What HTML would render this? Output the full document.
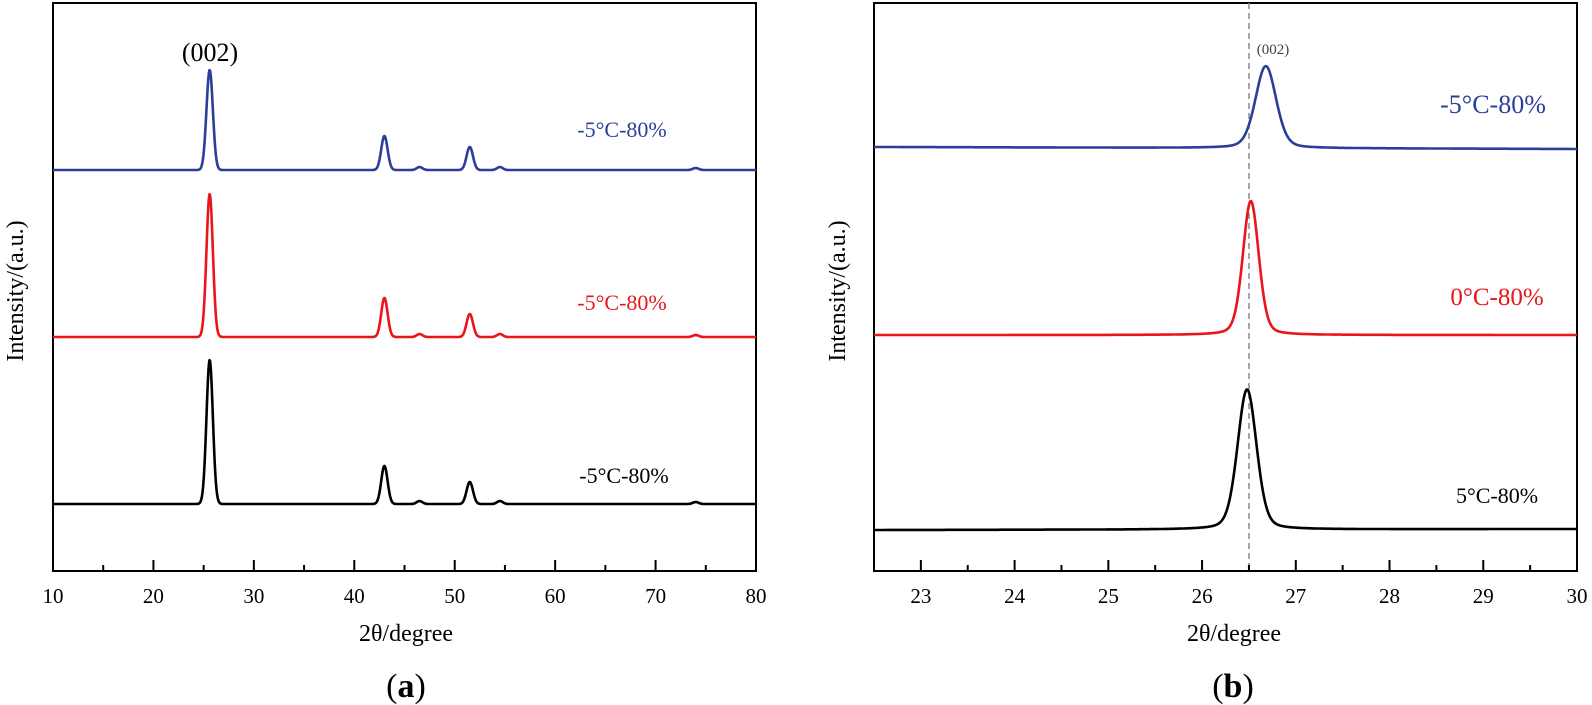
<!DOCTYPE html>
<html><head><meta charset="utf-8"><style>
body{margin:0;background:#fff}
svg{display:block;font-family:"Liberation Serif",serif}
</style></head><body>
<svg id="s" width="1592" height="705" viewBox="0 0 1592 705">
<rect x="53" y="3" width="703" height="568" fill="none" stroke="#000" stroke-width="2"/>
<rect x="874" y="3" width="703" height="568" fill="none" stroke="#000" stroke-width="2"/>
<line x1="1249" y1="3" x2="1249" y2="571" stroke="#888" stroke-width="1.5" stroke-dasharray="6,4"/>
<g id="ticks" stroke="#000" stroke-width="2"></g>
<g id="curves" fill="none" stroke-width="2.6" stroke-linejoin="round"></g>
<g font-size="21" text-anchor="middle" id="tl"></g>
<text x="210" y="61" font-size="26" text-anchor="middle">(002)</text>
<text x="1273" y="54" font-size="15" text-anchor="middle" fill="#444">(002)</text>
<text x="622" y="137" font-size="22" fill="#2b3f9a" text-anchor="middle">-5°C-80%</text>
<text x="622" y="310" font-size="22" fill="#e8161b" text-anchor="middle">-5°C-80%</text>
<text x="624" y="483" font-size="22" fill="#000" text-anchor="middle">-5°C-80%</text>
<text x="1493" y="113" font-size="26" fill="#2b3f9a" text-anchor="middle">-5°C-80%</text>
<text x="1497" y="305" font-size="25" fill="#e8161b" text-anchor="middle">0°C-80%</text>
<text x="1497" y="503" font-size="22" fill="#000" text-anchor="middle">5°C-80%</text>
<text x="406" y="641" font-size="24" text-anchor="middle">2θ/degree</text>
<text x="1234" y="641" font-size="24" text-anchor="middle">2θ/degree</text>
<text transform="translate(23,291) rotate(-90)" font-size="24" text-anchor="middle">Intensity/(a.u.)</text>
<text transform="translate(845,291) rotate(-90)" font-size="24" text-anchor="middle">Intensity/(a.u.)</text>
<text x="406" y="697" font-size="34" text-anchor="middle">(<tspan font-weight="bold">a</tspan>)</text>
<text x="1233" y="697" font-size="34" text-anchor="middle">(<tspan font-weight="bold">b</tspan>)</text>
</svg>
<script>
var NS="http://www.w3.org/2000/svg";
function el(p,t,a,txt){var e=document.createElementNS(NS,t);for(var k in a)e.setAttribute(k,a[k]);if(txt)e.textContent=txt;document.getElementById(p).appendChild(e);}
for(var v=10;v<=80;v+=5){var x=53+(v-10)*703/70;var L=v%10==0?11:6;el("ticks","line",{x1:x,y1:571,x2:x,y2:571-L});if(v%10==0)el("tl","text",{x:x,y:603},String(v));}
for(var v=22.5;v<=30.01;v+=0.5){var x=874+(v-22.5)*703/7.5;var L=(Math.abs(v-Math.round(v))<0.01)?11:6;el("ticks","line",{x1:x,y1:571,x2:x,y2:571-L});if(L==11)el("tl","text",{x:x,y:603},String(Math.round(v)));}
function lcurve(base,peaks,col){var d="";for(var x=53;x<=756;x+=0.5){var t=10+(x-53)*70/703;var y=base;peaks.forEach(function(p){y-=p[1]*Math.exp(-Math.pow((t-p[0])/p[2],2));});d+=(d?"L":"M")+x.toFixed(1)+","+y.toFixed(1);}el("curves","path",{d:d,stroke:col});}
var pk=function(h1,h2,h3){return [[25.6,h1,0.45],[43.0,h2,0.45],[51.5,h3,0.45],[46.5,3,0.4],[54.5,3,0.4],[74,2,0.4]];};
lcurve(170,pk(100,34,23),"#2b3f9a");
lcurve(337,pk(143,39,23),"#e8161b");
lcurve(504,pk(144,38,22),"#000");
function rcurve(b0,b1,c,h,w,col){var d="";for(var x=874;x<=1577;x+=0.5){var t=22.5+(x-874)*7.5/703;var base=b0+(b1-b0)*(x-874)/703;var u=(t-c)/w;var y=base-h*(0.75*Math.exp(-u*u*0.693)+0.25/(1+u*u));d+=(d?"L":"M")+x.toFixed(1)+","+y.toFixed(1);}el("curves","path",{d:d,stroke:col});}
rcurve(147,149,26.68,82,0.13,"#2b3f9a");
rcurve(335,335,26.52,134,0.10,"#e8161b");
rcurve(530,529,26.48,140,0.12,"#000");
</script>
</body></html>
